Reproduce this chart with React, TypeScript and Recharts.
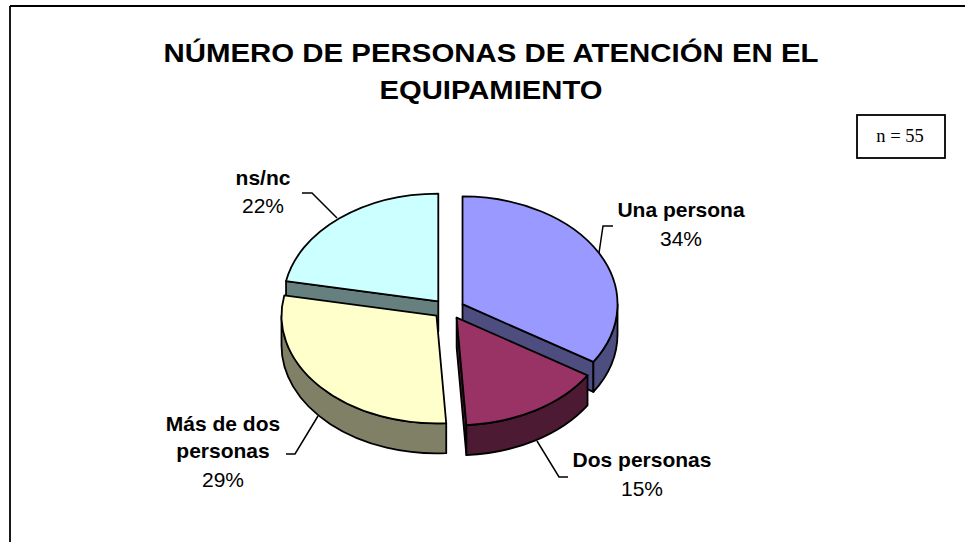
import React from "react";
import { PieChart, Pie, Cell } from "recharts";

const TITLE_LINES = ["NÚMERO DE PERSONAS DE ATENCIÓN EN EL", "EQUIPAMIENTO"];
const NOTE = "n = 55";
// Drawn in this order so the later slices overlap the earlier ones, as in the picture.
const CATEGORIES = ["ns/nc", "Una persona", "Dos personas", "Más de dos personas"];
const VALUES = [22, 34, 15, 29];
const TOP_COLORS = ["#CCFFFF", "#9999FF", "#993366", "#FFFFCC"];
const SIDE_COLORS = ["#668080", "#4D4D80", "#4D1A33", "#808066"];

const data = CATEGORIES.map((name, i) => ({ name, value: VALUES[i] }));

const SQUASH = 0.695;
const DEPTH = 30;
const EXPLODE_X = 16;
const EXPLODE_Y = 10;
const START = 90 + (VALUES[0] / 100) * 360;
const LW = 1.8;

const LABELS: Record<string, { x: number; lines: [string, number][]; pct: number; leader: number[][] }> = {
  "ns/nc": { x: 263, lines: [["ns/nc", 185]], pct: 213, leader: [[302, 193], [312, 193], [337, 218]] },
  "Una persona": { x: 681, lines: [["Una persona", 217]], pct: 246, leader: [[613, 226], [603, 226], [599, 253]] },
  "Dos personas": { x: 642, lines: [["Dos personas", 467]], pct: 496, leader: [[568, 477], [559, 477], [537, 441]] },
  "Más de dos personas": {
    x: 223,
    lines: [["Más de dos", 431], ["personas", 458]],
    pct: 487,
    leader: [[286, 454], [295, 454], [318, 416]],
  },
};

function Slice3D(props: any) {
  const { cx, cy, outerRadius, startAngle, endAngle, midAngle, fill, index } = props;
  const rx = outerRadius;
  const ry = outerRadius * SQUASH;
  // t: clockwise from 12 o'clock, on the squashed circle
  const t0 = 90 - startAngle;
  const t1 = 90 - endAngle;
  const tm = ((90 - (midAngle ?? (startAngle + endAngle) / 2)) * Math.PI) / 180;
  const ax = cx + EXPLODE_X * Math.sin(tm);
  const ay = cy - EXPLODE_Y * Math.cos(tm);
  const pt = (deg: number) => {
    const r = (deg * Math.PI) / 180;
    return [ax + rx * Math.sin(r), ay - ry * Math.cos(r)];
  };
  const [sx, sy] = pt(t0);
  const [ex, ey] = pt(t1);
  const side = SIDE_COLORS[index];
  const large = t1 - t0 > 180 ? 1 : 0;
  const top = `M${ax},${ay}L${sx},${sy}A${rx},${ry} 0 ${large} 1 ${ex},${ey}Z`;

  const faces: React.ReactNode[] = [];
  const stroke = { stroke: "#000", strokeWidth: LW, strokeLinejoin: "round" as const };
  const face = (x: number, y: number, key: string) => (
    <path key={key} d={`M${ax},${ay}L${x},${y}L${x},${y + DEPTH}L${ax},${ay + DEPTH}Z`} fill={side} {...stroke} />
  );
  // cut faces turned toward the viewer
  if (Math.sin((t0 * Math.PI) / 180) < -0.01) faces.push(face(sx, sy, "start"));
  if (Math.sin((t1 * Math.PI) / 180) > 0.01) faces.push(face(ex, ey, "end"));
  // outer rim: only the front half of the squashed circle
  const overlaps: [number, number][] = [];
  for (const shift of [0, 360, -360]) {
    const a = Math.max(t0, 90 + shift);
    const b = Math.min(t1, 270 + shift);
    if (b > a) overlaps.push([a, b]);
  }
  overlaps.forEach(([a, b], i) => {
    const [p, q] = pt(a);
    const [u, v] = pt(b);
    faces.push(
      <path
        key={`rim${i}`}
        d={`M${p},${q}A${rx},${ry} 0 0 1 ${u},${v}L${u},${v + DEPTH}A${rx},${ry} 0 0 0 ${p},${q + DEPTH}Z`}
        fill={side}
        {...stroke}
      />
    );
  });
  return (
    <g>
      {faces}
      <path d={top} fill={fill} {...stroke} />
    </g>
  );
}

function renderLabel(props: any) {
  const { name, value } = props;
  const l = LABELS[name];
  if (!l) return null;
  const font = { fontFamily: "'Liberation Sans', Arial, sans-serif", fontSize: 21, fill: "#000", textAnchor: "middle" as const };
  return (
    <g>
      <polyline
        points={l.leader.map((p) => p.join(",")).join(" ")}
        fill="none"
        stroke="#000"
        strokeWidth={1.5}
      />
      {l.lines.map(([t, y]) => (
        <text key={t} x={l.x} y={y} fontWeight="bold" {...font}>
          {t}
        </text>
      ))}
      <text x={l.x} y={l.pct} {...font}>
        {value}%
      </text>
    </g>
  );
}

const titleFont = { fontFamily: "'Liberation Sans', Arial, sans-serif", fontWeight: "bold", fontSize: 26.5, fill: "#000", textAnchor: "middle" as const, lengthAdjust: "spacingAndGlyphs" };

export default function App() {
  return (
    <div style={{ position: "absolute", left: 0, top: 0, width: 965, height: 542, background: "#fff" }}>
      <PieChart width={965} height={542} margin={{ top: 0, right: 0, bottom: 0, left: 0 }}>
        <line x1={10} y1={6} x2={965} y2={6} stroke="#000" strokeWidth={1.8} />
        <line x1={10} y1={6} x2={10} y2={542} stroke="#000" strokeWidth={1.8} />
        <text x={491} y={62} textLength={655} {...titleFont}>
          {TITLE_LINES[0]}
        </text>
        <text x={491} y={98.5} textLength={223} {...titleFont}>
          {TITLE_LINES[1]}
        </text>
        <rect x={857} y={115} width={88} height={43} fill="#fff" stroke="#000" strokeWidth={1.8} />
        <text x={900} y={141.5} textAnchor="middle" fontFamily="'Liberation Serif', 'Times New Roman', serif" fontSize={18.5} fill="#000">
          {NOTE}
        </text>
        <Pie
          data={data}
          dataKey="value"
          nameKey="name"
          cx={448.5}
          cy={309}
          innerRadius={0}
          outerRadius={155}
          startAngle={START}
          endAngle={START - 360}
          paddingAngle={0}
          isAnimationActive={false}
          shape={Slice3D}
          label={renderLabel}
          labelLine={false}
        >
          {data.map((d, i) => (
            <Cell key={d.name} fill={TOP_COLORS[i]} />
          ))}
        </Pie>
      </PieChart>
    </div>
  );
}
